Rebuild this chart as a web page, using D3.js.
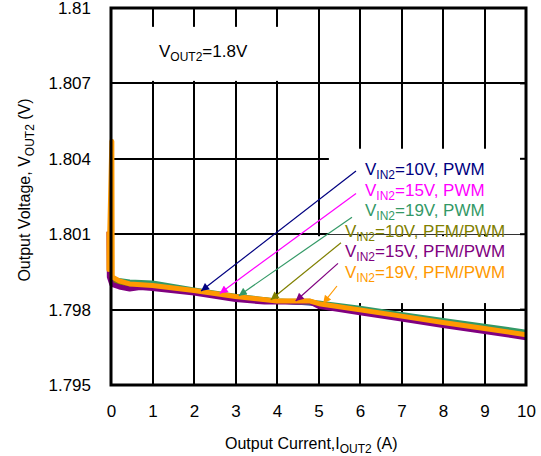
<!DOCTYPE html>
<meta charset="utf-8">
<style>
body { margin: 0; background: #fff; }
text { font-family: "Liberation Sans", Arial, sans-serif; fill: #000; }
.grid line { stroke: #000; stroke-width: 2; shape-rendering: crispEdges; }
.curve { fill: none; stroke-linejoin: round; stroke-linecap: butt; }
</style>
<svg width="541" height="456"></svg>
<script src="https://d3js.org/d3.v7.min.js"></script>
<script>

// ---- data ----
var xTickValues = [0, 1, 2, 3, 4, 5, 6, 7, 8, 9, 10];
var xTickLabels = ["0", "1", "2", "3", "4", "5", "6", "7", "8", "9", "10"];
var yTickValues = [1.795, 1.798, 1.801, 1.804, 1.807, 1.81];
var yTickLabels = ["1.795", "1.798", "1.801", "1.804", "1.807", "1.81"];

var pwmCurrent = [0, 0.03, 0.1, 0.45, 1, 2, 3, 4, 5, 6, 7, 8, 9, 10];
var pwm10V = [1.7993, 1.7992, 1.79915, 1.7990, 1.79895, 1.79874, 1.79850, 1.79832, 1.79822, 1.79800, 1.79776, 1.79751, 1.79727, 1.79703];
var pwm15V = [1.7993, 1.7992, 1.79915, 1.7990, 1.79898, 1.79876, 1.79851, 1.79833, 1.79824, 1.79802, 1.79778, 1.79753, 1.79729, 1.79705];
var pwm19V = [1.7993, 1.7992, 1.79918, 1.79910, 1.79906, 1.79878, 1.79853, 1.79834, 1.79826, 1.79805, 1.79781, 1.79757, 1.79734, 1.79710];

var pfm10Current = [-0.04, 0.02, 0.1, 0.45, 1, 2, 3, 4, 4.8, 5.05, 6, 7, 8, 9, 10];
var pfm10V = [1.7992, 1.7992, 1.79912, 1.79900, 1.79894, 1.79874, 1.79850, 1.79833, 1.79833, 1.79821, 1.79797, 1.79772, 1.79747, 1.79723, 1.79698];

var pfm15Current = [-0.05, -0.04, 0.02, 0.2, 0.45, 0.7, 1, 2, 3, 3.7, 4.8, 5, 6, 7, 8, 9, 10];
var pfm15V = [1.8011, 1.7993, 1.7990, 1.79890, 1.79882, 1.79888, 1.79884, 1.79866, 1.79840, 1.79830, 1.79830, 1.79813, 1.79787, 1.79762, 1.79737, 1.79713, 1.79688];

var pfm19Current = [-0.05, -0.05, 0.02, 0.03, 0.2, 0.45, 1, 2, 3, 4, 4.8, 5.05, 6, 7, 8, 9, 10];
var pfm19V = [1.8011, 1.7996, 1.8047, 1.7993, 1.79914, 1.79902, 1.79896, 1.79876, 1.79852, 1.79834, 1.79834, 1.79822, 1.79799, 1.79774, 1.79749, 1.79725, 1.79700];

var seriesVin = ["10V", "15V", "19V", "10V", "15V", "19V"];
var seriesMode = ["PWM", "PWM", "PWM", "PFM/PWM", "PFM/PWM", "PFM/PWM"];
var arrowCurrent = [2.17, 2.62, 3.08, 3.85, 4.45, 5.11];

var series = [
  { x: pwmCurrent, y: pwm10V, color: "#000080", width: 4 },
  { x: pwmCurrent, y: pwm15V, color: "#ff00ff", width: 4 },
  { x: pwmCurrent, y: pwm19V, color: "#339966", width: 5 },
  { x: pfm10Current, y: pfm10V, color: "#808000", width: 5 },
  { x: pfm15Current, y: pfm15V, color: "#800080", width: 5 },
  { x: pfm19Current, y: pfm19V, color: "#ff9900", width: 5 }
];

// ---- layout ----
var svg = d3.select("svg"),
    margin = { top: 8, right: 15, bottom: 71, left: 111 },
    width = +svg.attr("width") - margin.left - margin.right,
    height = +svg.attr("height") - margin.top - margin.bottom;

var x = d3.scaleLinear().domain([0, 10]).range([0, width]);
var y = d3.scaleLinear().domain([1.795, 1.81]).range([height, 0]);

var g = svg.append("g").attr("transform", "translate(" + margin.left + "," + margin.top + ")");

// gridlines
var grid = g.append("g").attr("class", "grid");
grid.selectAll(".vx").data(xTickValues.slice(1, -1)).enter().append("line")
    .attr("x1", function(d) { return Math.round(x(d)); })
    .attr("x2", function(d) { return Math.round(x(d)); })
    .attr("y1", 0).attr("y2", height);
grid.selectAll(".hy").data(yTickValues.slice(1, -1)).enter().append("line")
    .attr("y1", function(d) { return Math.round(y(d)); })
    .attr("y2", function(d) { return Math.round(y(d)); })
    .attr("x1", 0).attr("x2", width);

// white text boxes that cover the grid
var boxes = [
  { x0: 0.7, x1: 4.55, y0: 1.80925, y1: 1.8071 },
  { x0: 5.25, x1: 10, y0: 1.8044, y1: 1.80100 },
  { x0: 4.93, x1: 10, y0: 1.80092, y1: 1.79826 }
];
g.selectAll(".box").data(boxes).enter().append("rect")
    .attr("x", function(d) { return x(d.x0); })
    .attr("y", function(d) { return y(d.y0); })
    .attr("width", function(d) { return x(d.x1) - x(d.x0); })
    .attr("height", function(d) { return y(d.y1) - y(d.y0); })
    .attr("fill", "#fff");

// curves
var line = d3.line()
    .x(function(d) { return x(d[0]); })
    .y(function(d) { return y(d[1]); });

g.selectAll(".curve").data(series).enter().append("path")
    .attr("class", "curve")
    .attr("stroke", function(d) { return d.color; })
    .attr("stroke-width", function(d) { return d.width; })
    .attr("d", function(d) { return line(d3.zip(d.x, d.y)); });

// frame and inward ticks
g.append("rect")
    .attr("x", 0).attr("y", 0).attr("width", width).attr("height", height)
    .attr("fill", "none").attr("stroke", "#000").attr("stroke-width", 3);
g.append("g").selectAll("line").data(yTickValues).enter().append("line")
    .attr("x1", width).attr("x2", width - 6)
    .attr("y1", function(d) { return y(d); }).attr("y2", function(d) { return y(d); })
    .attr("stroke", "#000").attr("stroke-width", 2);

// axes labels
var yAxis = d3.axisLeft(y).tickValues(yTickValues).tickSize(0).tickPadding(20)
    .tickFormat(function(d, i) { return yTickLabels[i]; });
g.append("g").call(yAxis).call(function(s) {
  s.select(".domain").remove();
  s.selectAll("text").attr("font-size", 17).attr("font-family", "Liberation Sans, Arial, sans-serif");
});
var xAxis = d3.axisBottom(x).tickValues(xTickValues).tickSize(0).tickPadding(20)
    .tickFormat(function(d, i) { return xTickLabels[i]; });
g.append("g").attr("transform", "translate(0," + height + ")").call(xAxis).call(function(s) {
  s.select(".domain").remove();
  s.selectAll("text").attr("font-size", 17).attr("font-family", "Liberation Sans, Arial, sans-serif");
});

function subText(sel, main, sub, rest, size, subSize) {
  sel.append("tspan").attr("font-size", size).text(main);
  sel.append("tspan").attr("font-size", subSize).attr("dy", 4).text(sub);
  sel.append("tspan").attr("font-size", size).attr("dy", -4).text(rest);
}

svg.append("text").attr("x", 225).attr("y", 449).attr("text-anchor", "start")
    .call(subText, "Output Current,I", "OUT2", " (A)", 16, 12);
svg.append("text").attr("transform", "translate(30,190) rotate(-90)").attr("text-anchor", "middle")
    .call(subText, "Output Voltage, V", "OUT2", " (V)", 16, 12);

svg.append("text").attr("x", 159).attr("y", 57)
    .call(subText, "V", "OUT2", "=1.8V", 17, 12);

// legend texts with arrows
var defs = svg.append("defs");
series.forEach(function(s, i) {
  defs.append("marker").attr("id", "ah" + i)
      .attr("viewBox", "0 0 10 10").attr("refX", 10).attr("refY", 5)
      .attr("markerWidth", 10).attr("markerHeight", 8).attr("markerUnits", "userSpaceOnUse")
      .attr("orient", "auto")
    .append("path").attr("d", "M0,0L10,5L0,10z").attr("fill", s.color);
});

var labelX = [365, 365, 365, 345, 345, 345];
var tailDx = [-9, -9, -13, -4, -7, -8];
var tailDy = [-4, -2, 1, 6, 6, 8];

series.forEach(function(s, i) {
  var bx = labelX[i], by = 175 + i * 20.6;
  svg.append("text").attr("x", bx).attr("y", by)
      .style("fill", s.color)
      .call(subText, "V", "IN2", "=" + seriesVin[i] + ", " + seriesMode[i], 17, 12);
  var keep = function(v, k) { return k === 0 || s.x[k] > s.x[k - 1]; };
  var interp = d3.scaleLinear().domain(s.x.filter(keep)).range(s.y.filter(keep));
  var hy = y(interp(arrowCurrent[i])) + margin.top;
  svg.append("line")
      .attr("x1", bx + tailDx[i]).attr("y1", by + tailDy[i])
      .attr("x2", x(arrowCurrent[i]) + margin.left).attr("y2", hy - 1)
      .attr("stroke", s.color).attr("stroke-width", 1.2)
      .attr("marker-end", "url(#ah" + i + ")");
});

</script>
